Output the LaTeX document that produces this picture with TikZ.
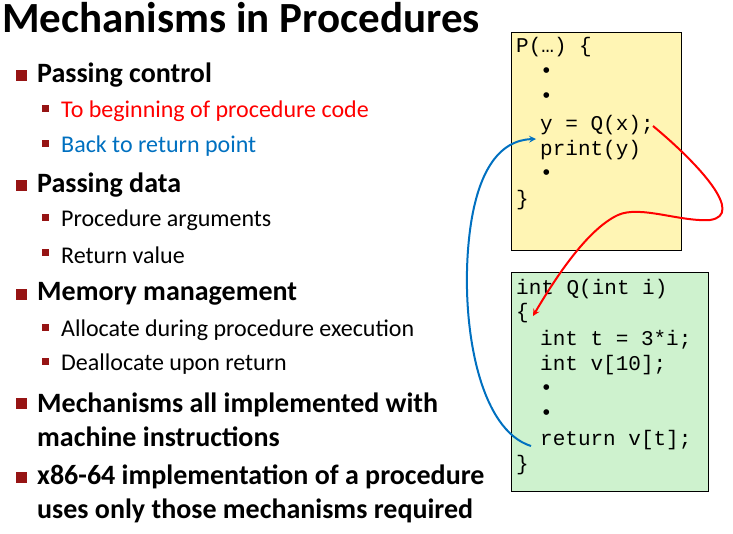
\documentclass[tikz,border=0pt]{standalone}
\usepackage{fontspec}
\setmainfont{Carlito}
\newfontfamily\mono{Liberation Mono}
\definecolor{lblue}{RGB}{0,112,192}
\definecolor{bred}{RGB}{150,20,20}
\begin{document}
\begin{tikzpicture}[x=1pt,y=-1pt,
  t1/.style={anchor=west,inner sep=0pt,font=\fontsize{28}{34}\selectfont\bfseries},
  t2/.style={anchor=west,inner sep=0pt,font=\fontsize{24}{28}\selectfont},
  b1/.style={fill=bred,minimum size=11pt,inner sep=0pt},
  b2/.style={fill=bred,minimum size=7pt,inner sep=0pt},
  code/.style={anchor=west,inner sep=0pt,font=\mono\fontsize{21}{24}\selectfont},
  box/.style={draw=black,line width=0.8pt}]
\useasboundingbox (0,0) rectangle (733,533);
\node[anchor=west,inner sep=0pt,font=\fontsize{43}{50}\selectfont\bfseries] (title) at (2,18) {Mechanisms in Procedures};
\foreach \y/\t [count=\i] in {75/Passing control,185/Passing data,294/Memory management}{
  \node[b1] (bl\i) at (21,\y) {}; \node[t1] (l\i) at (37,\y) {\t};}
\node[b1] (bl4) at (21,403) {};
\node[t1,align=left] (l4) at (37,420) {Mechanisms all implemented with\\machine instructions};
\node[b1] (bl5) at (21,477) {};
\node[t1,align=left] (l5) at (37,494) {x86-64 implementation of a procedure\\uses only those mechanisms required};
\foreach \y/\t/\c [count=\i] in {111/To beginning of procedure code/red,146/Back to return point/lblue,220/Procedure arguments/black,255/Return value/black,330/Allocate during procedure execution/black,364/Deallocate upon return/black}{
  \node[b2] (sb\i) at (45,\y-3) {}; \node[t2,text=\c] (s\i) at (61,\y) {\t};}
\node[box,fill=yellow!25!white!95!orange,minimum width=170pt,minimum height=218pt,anchor=north west] (P) at (511,32) {};
\node[box,fill=green!15!white!95!black,minimum width=197pt,minimum height=219pt,anchor=north west] (Q) at (511,272) {};
\node[code] (p1) at (516,47) {P(…) \{};
\node[code] (p2) at (540,73) {•};
\node[code] (p3) at (540,98) {•};
\node[code] (p4) at (540,125) {y = Q(x);};
\node[code] (p5) at (540,150) {print(y)};
\node[code] (p6) at (540,175) {•};
\node[code] (p7) at (516,200) {\}};
\node[code] (q1) at (516,289) {int Q(int i)};
\node[code] (q2) at (516,313) {\{};
\node[code] (q3) at (540,340) {int t = 3*i;};
\node[code] (q4) at (540,365) {int v[10];};
\node[code] (q5) at (540,390) {•};
\node[code] (q6) at (540,415) {•};
\node[code] (q7) at (540,440) {return v[t];};
\node[code] (q8) at (516,465) {\}};
\coordinate (rs) at (653,126);
\coordinate (re) at (533,316);
\coordinate (bs) at (531,446);
\coordinate (be) at (536,139);
\draw[red,line width=2pt,-stealth] (rs) .. controls (700,165) and (745,215) .. (710,220)
  .. controls (680,222) and (640,205) .. (618,215) .. controls (590,228) and (560,270) .. (re);
\draw[lblue,line width=2pt,-stealth] (bs) .. controls (480,430) and (462,330) .. (468,250)
  .. controls (474,170) and (500,140) .. (be);
\end{tikzpicture}
\end{document}
